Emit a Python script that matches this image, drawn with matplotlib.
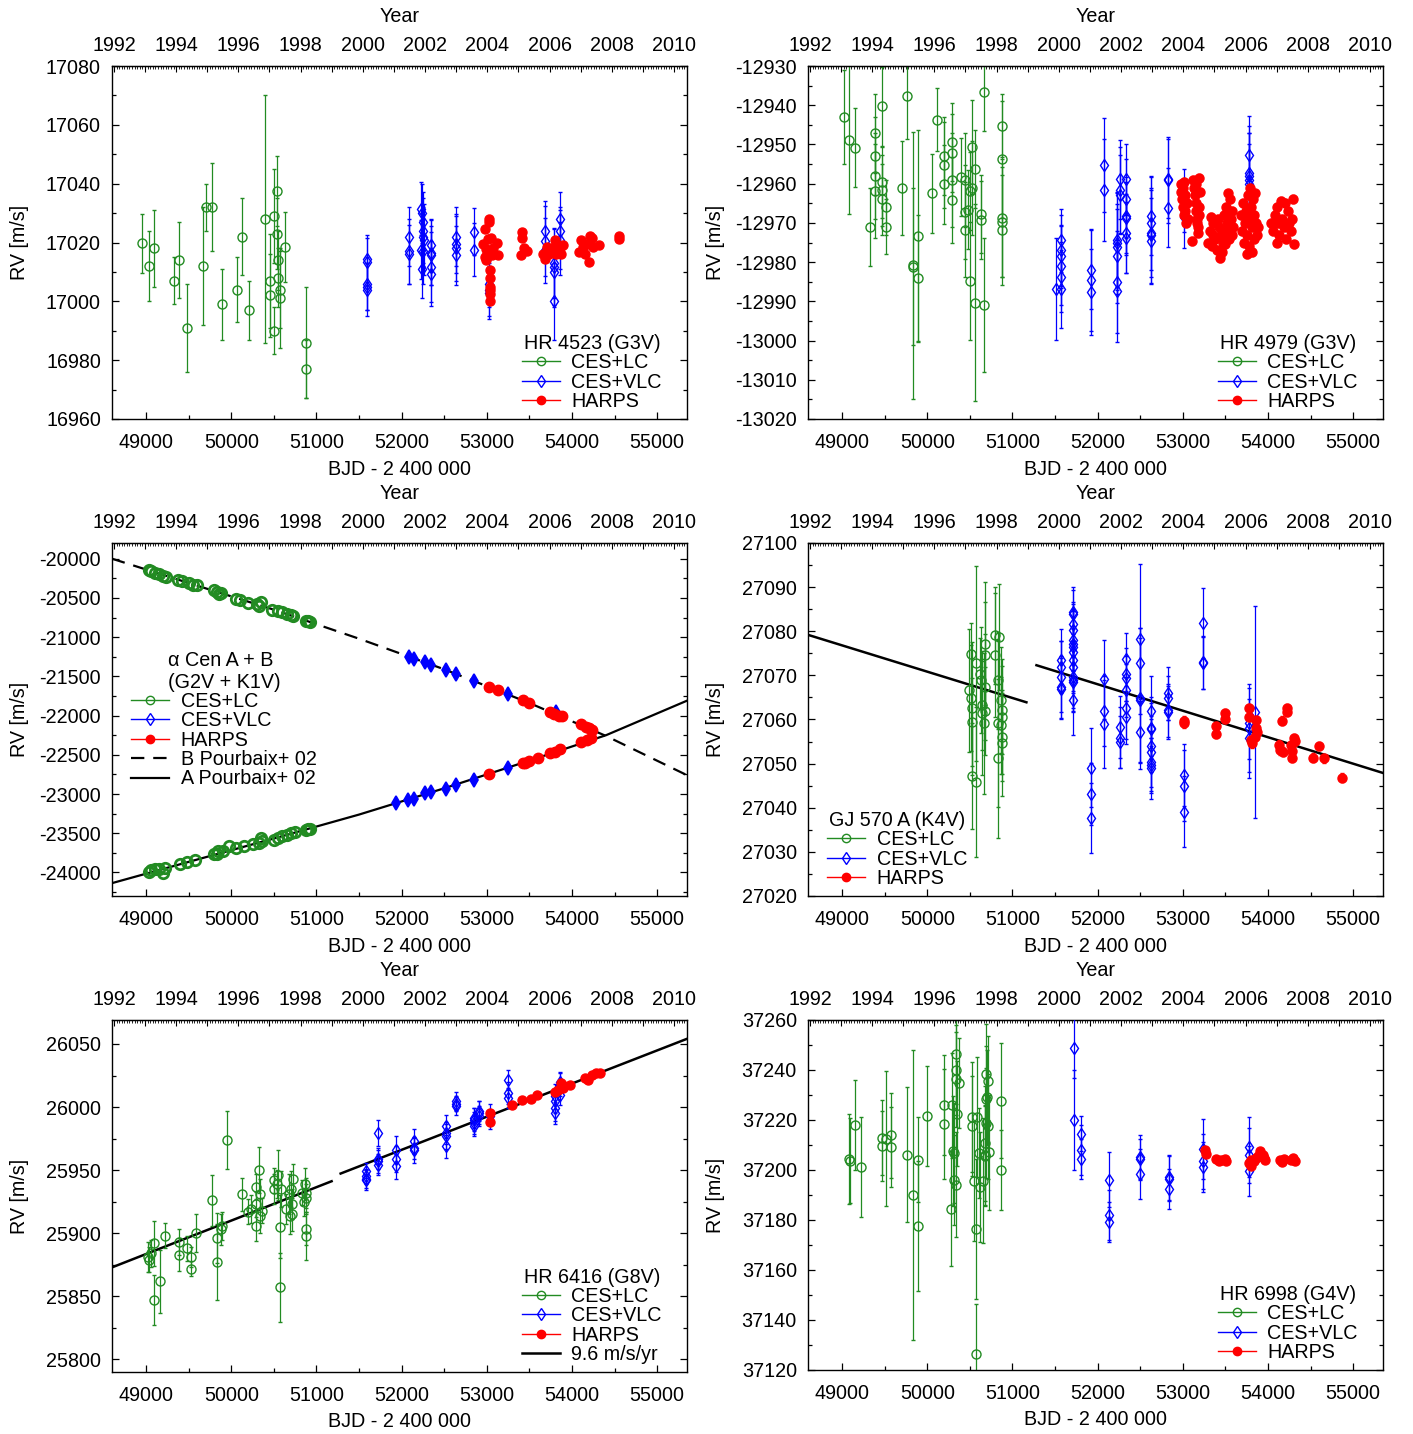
import matplotlib
matplotlib.use('Agg')
import matplotlib.pyplot as plt
from matplotlib.lines import Line2D
from matplotlib.ticker import MultipleLocator, FuncFormatter

plt.rcParams['font.family'] = ['Liberation Sans', 'DejaVu Sans']
plt.rcParams['font.size'] = 14.2
plt.rcParams['axes.unicode_minus'] = False

GREEN = '#228b22'
BLUE = '#0000ff'
RED = '#ff0000'
HARPS_ERR = 1.0

# ---------------- HR 4523 ----------------
hr4523_lc_t = [48947, 49037, 49090, 49333, 49391, 49476, 49666, 49704, 49778, 49888, 50068, 50131, 50211,
               50396, 50459, 50459, 50502, 50502, 50533, 50533, 50549, 50549, 50575, 50575, 50628, 50882, 50882]
hr4523_lc_rv = [17019.8, 17012, 17018, 17007, 17014, 16991, 17012, 17032, 17032, 16999, 17004, 17022, 16997,
                17028, 17007, 17002, 17029, 16990, 17037.5, 17023, 17014, 17008, 17004, 17001, 17018.5, 16986, 16977]
hr4523_lc_err = [10, 12, 13, 8, 13, 15, 20, 8, 15, 12, 11, 13, 10,
                 42, 16, 14, 16, 8, 12, 12, 10, 10, 13, 17, 12, 19, 10]

hr4523_vlc_t = [51590, 51590, 51590, 51590, 51590, 52082, 52082, 52082,
                52230, 52240, 52245, 52250, 52255, 52262, 52230, 52245, 52240,
                52346, 52346, 52346, 52346, 52346, 52642, 52642, 52642, 52642,
                52848, 52848, 53028, 53028, 53028, 53678, 53678, 53678,
                53794, 53794, 53794, 53794, 53863, 53863, 53863, 53863]
hr4523_vlc_rv = [17014.5, 17013.4, 17006, 17005, 17004, 17022, 17017, 17016,
                 17031.5, 17030, 17027, 17024, 17022, 17021, 17017.6, 17017, 17011,
                 17019, 17016.5, 17015.6, 17011.7, 17009.4, 17022, 17019.6, 17018, 17015.6,
                 17023.6, 17017.6, 17006, 17004, 17003, 17024, 17020.5, 17017.4,
                 17013, 17011.7, 17010, 17000, 17028, 17024, 17021, 17018]
hr4523_vlc_err = [8, 8, 9, 8, 9, 10, 11, 10,
                  9, 10, 10, 11, 10, 12, 10, 11, 10,
                  9, 11, 10, 12, 11, 10, 10, 11, 10,
                  8, 9, 8, 9, 9, 10, 12, 11,
                  12, 13, 12, 13, 9, 8, 10, 9]

hr4523_harps_t = [52975, 52954, 52991, 53007, 53017, 53028, 53028, 53044, 53033, 53033, 53033, 53033, 53033, 53033,
                  53060, 53070, 53123, 53134, 52975, 52996, 53414, 53414, 53398, 53440, 53467,
                  53662, 53678, 53705, 53731, 53757, 53784, 53800, 53810, 53821, 53837, 53863, 53874, 53890,
                  54085, 54101, 54128, 54154, 54180, 54196, 54207, 54233, 54244, 54313, 54551, 54551]
hr4523_harps_rv = [17024.7, 17019.6, 17017.9, 17016.2, 17021.3, 17028.1, 17027, 17021.6, 17010.5, 17008, 17005,
                   17004, 17002.4, 17000, 17015.6, 17018, 17020, 17015.6, 17015, 17014, 17023.6, 17021.6, 17015.6,
                   17018, 17017, 17016, 17014.5, 17018.5, 17016, 17017.3, 17018.5, 17020.7, 17016, 17019, 17017.3,
                   17018, 17016, 17019, 17016.8, 17020.7, 17018.5, 17016, 17019.6, 17013.4, 17022.3, 17021.6,
                   17018.5, 17019, 17022.3, 17021.3]

# ---------------- HR 4979 ----------------
hr4979_lc_t = [49027, 49086, 49150, 49333, 49381, 49381, 49381, 49381, 49467, 49467, 49467, 49467, 49521, 49521,
               49703, 49768, 49827, 49827, 49886, 49886, 50058, 50117, 50198, 50198, 50198, 50294, 50294, 50294,
               50294, 50391, 50445, 50445, 50445, 50482, 50499, 50499, 50520, 50520, 50563, 50563, 50627, 50627,
               50665, 50665, 50874, 50874, 50874, 50874, 50874]
hr4979_lc_rv = [-12943, -12948.8, -12950.8, -12971, -12947.2, -12952.9, -12958, -12961.8, -12940.3, -12959.7,
                -12961.7, -12964, -12966, -12971, -12961, -12937.6, -12980.8, -12981.2, -12973.4, -12984,
                -12962.5, -12943.7, -12953, -12955.2, -12960.2, -12949.4, -12952.2, -12959.1, -12964.1, -12958.3,
                -12959.1, -12967.3, -12971.7, -12966.6, -12961.9, -12984.9, -12950.6, -12961.1, -12956.2,
                -12990.3, -12967.8, -12969.3, -12936.6, -12990.9, -12945.2, -12953.8, -12968.7, -12969.8, -12971.9]
hr4979_lc_err = [12, 19, 10, 10, 10, 10, 11, 12, 10, 9, 9, 9, 7, 7,
                 12, 11, 34, 20, 27, 16, 10, 8, 10, 11, 10, 10, 10, 12,
                 11, 10, 12, 12, 12, 10, 10, 15, 12, 12, 10, 25, 10, 10,
                 10, 17, 8, 15, 15, 14, 14]

hr4979_vlc_t = [51513, 51567, 51567, 51567, 51567, 51567, 51567, 51922, 51922, 51922, 52077, 52077,
                52228, 52228, 52228, 52228, 52228, 52228, 52260, 52260, 52260,
                52330, 52330, 52330, 52330, 52330, 52330, 52625, 52625, 52625, 52625, 52625,
                52829, 52829, 52829, 53012, 53012, 53780, 53780, 53780, 53780, 53780]
hr4979_vlc_rv = [-12986.8, -12974.4, -12977, -12978.5, -12980.9, -12983.8, -12986.8, -12981.9, -12984.6, -12987.6,
                 -12955.3, -12961.7, -12974.4, -12975.2, -12976.1, -12978.5, -12985.1, -12987.4, -12958.9,
                 -12961.7, -12962.8, -12958.9, -12963.8, -12968.3, -12968.7, -12972.7, -12973.8, -12968.3,
                 -12970, -12972.7, -12973.2, -12974.6, -12958.7, -12959.1, -12966.1, -12964.2, -12968.5,
                 -12952.8, -12957.2, -12958.1, -12959.1, -12960]
hr4979_vlc_err = [13, 8, 9, 8, 10, 9, 10, 10, 13, 11, 12, 13,
                  12, 13, 11, 12, 13, 13, 10, 11, 10,
                  9, 10, 10, 9, 10, 9, 10, 12, 11, 12, 11,
                  10, 11, 10, 8, 8, 10, 12, 11, 12, 10]

hr4979_harps_t = [52975, 52980, 52990, 53000, 53005, 53010, 53020, 53030, 53040, 53050, 53055, 53015,
                  53120, 53130, 53140, 53150, 53160, 53170, 53180, 53190, 53200, 53185, 53175, 53165, 53195,
                  53106, 53155,
                  53300, 53320, 53340, 53360, 53380, 53400, 53420, 53440, 53450, 53470, 53480, 53500, 53510,
                  53520, 53540, 53550, 53560, 53575, 53590, 53530, 53410, 53460, 53350, 53330, 53490, 53580,
                  53680, 53700, 53710, 53720, 53730, 53740, 53750, 53760, 53770, 53780, 53790, 53800, 53810,
                  53820, 53830, 53840, 53850, 53860, 53870, 53880, 53755, 53815,
                  54040, 54060, 54080, 54100, 54110, 54130, 54150, 54170, 54190, 54210, 54230, 54250, 54270,
                  54290, 54300, 54280, 54200, 54120]
hr4979_harps_rv = [-12960, -12962, -12964, -12966, -12961, -12968, -12963, -12967, -12970, -12965, -12969, -12959.5,
                   -12959, -12961, -12963, -12965, -12967, -12969, -12971, -12966, -12962, -12958.5, -12972.5,
                   -12970, -12968, -12974.6, -12960,
                   -12975, -12972, -12976, -12970, -12974, -12977, -12971, -12979, -12973, -12975, -12968,
                   -12972, -12966, -12970, -12974, -12964, -12969, -12967, -12971, -12962.5, -12969, -12977.5,
                   -12973, -12968.5, -12975.5, -12973,
                   -12968, -12972, -12965, -12975, -12970, -12967, -12973, -12963, -12969, -12976, -12961,
                   -12966, -12971, -12964, -12974, -12968, -12962.5, -12970, -12973, -12971, -12978, -12977.5,
                   -12970, -12972, -12968, -12975, -12966, -12973, -12964.5, -12969, -12971, -12974, -12967,
                   -12970, -12972, -12964, -12975.5, -12969, -12965, -12970]

# ---------------- alpha Cen A + B ----------------
acen_lc_t = [49030, 49060, 49100, 49150, 49200, 49230, 49380, 49420, 49500, 49550, 49600, 49800, 49830, 49860,
             49880, 50050, 50100, 50200, 50300, 50330, 50350, 50480, 50550, 50600, 50650, 50700, 50730, 50880,
             50900, 50920,
             49030, 49060, 49100, 49150, 49200, 49220, 49400, 49480, 49580, 49800, 49830, 49850, 49900, 49970,
             50050, 50150, 50250, 50330, 50350, 50360, 50500, 50550, 50600, 50650, 50700, 50750, 50880, 50900,
             50920]
acen_lc_rv = [-20140, -20160, -20180, -20190, -20220, -20230, -20270, -20290, -20310, -20330, -20340, -20400,
              -20420, -20450, -20440, -20510, -20530, -20560, -20580, -20600, -20550, -20650, -20670, -20680,
              -20700, -20720, -20730, -20790, -20800, -20810,
              -23990, -23970, -23960, -23950, -24010, -23940, -23890, -23870, -23840, -23760, -23770, -23730,
              -23720, -23660, -23690, -23660, -23640, -23620, -23560, -23600, -23580, -23560, -23540, -23520,
              -23500, -23490, -23460, -23450, -23440]

acen_vlc_t = [52082, 52146, 52278, 52347, 52516, 52642, 52848, 53245, 53810,
              51930, 52080, 52140, 52280, 52340, 52515, 52640, 52850, 53245]
acen_vlc_rv = [-21250, -21280, -21320, -21350, -21420, -21470, -21560, -21730, -21960,
               -23120, -23070, -23060, -22990, -22980, -22930, -22880, -22820, -22670]

acen_harps_t = [53030, 53130, 53420, 53500, 53740, 53790, 53850, 53880, 54100, 54160, 54200, 54240,
                53030, 53420, 53450, 53500, 53600, 53740, 53800, 53860, 54100, 54180, 54220]
acen_harps_rv = [-21630, -21680, -21800, -21840, -21950, -21975, -22000, -22010, -22110, -22140, -22160, -22180,
                 -22740, -22610, -22600, -22580, -22540, -22480, -22460, -22430, -22340, -22310, -22290]

acen_b_t = [48600, 49500, 50500, 51500, 52500, 53500, 54400, 55350]
acen_b_rv = [-20000, -20310, -20650, -21020, -21410, -21840, -22260, -22760]
acen_a_t = [48600, 49500, 50500, 51500, 52500, 53500, 54400, 55350]
acen_a_rv = [-24136, -23865, -23567, -23262, -22927, -22574, -22250, -21810]

# ---------------- GJ 570 A ----------------
gj570_lc_t = [50509, 50493, 50515, 50520, 50531, 50520, 50569, 50569, 50622, 50627, 50638, 50638, 50676, 50676,
              50676, 50676, 50665, 50800, 50837, 50800, 50827, 50827, 50827, 50869, 50880, 50880, 50869, 50880,
              50880]
gj570_lc_rv = [27074.9, 27066.6, 27064.8, 27062.5, 27059.5, 27047.2, 27072.7, 27045.9, 27070.4, 27068.9,
               27063.2, 27061.5, 27077.2, 27074.7, 27067.4, 27061.9, 27059.1, 27079.1, 27078.6, 27074.6,
               27068.9, 27059.1, 27051.2, 27064.4, 27062.1, 27060.6, 27058.7, 27056.1, 27054.6]
gj570_lc_err = [7, 14, 12, 15, 10, 12, 22, 17, 8, 12, 10, 14, 14, 12, 12, 10, 16, 11, 12, 14,
                11, 19, 18, 12, 10, 13, 11, 10, 12]

gj570_vlc_t = [51567, 51567, 51567, 51567, 51567,
               51712, 51712, 51712, 51712, 51712, 51712, 51712, 51712, 51712, 51712, 51712, 51712, 51712, 51712,
               51922, 51922, 51922, 52077, 52077, 52077, 52260, 52260, 52260,
               52330, 52330, 52330, 52330, 52330, 52330, 52502, 52502, 52502, 52502, 52502,
               52625, 52625, 52625, 52625, 52625, 52625, 52625, 52625,
               52829, 52829, 52829, 52829, 53012, 53012, 53012, 53232, 53232, 53232,
               53780, 53780, 53780, 53850]
gj570_vlc_rv = [27073.4, 27071.9, 27069.7, 27067.4, 27067,
                27084.4, 27084, 27081.7, 27080.2, 27078.1, 27077.2, 27076.5, 27075.3, 27073.4, 27071.9,
                27069.7, 27068.9, 27068.5, 27064.4,
                27049.1, 27043.2, 27037.7, 27069.1, 27061.9, 27058.9, 27058.3, 27055.9, 27054.9,
                27073.7, 27070.3, 27069.3, 27066.6, 27062.6, 27060.5, 27078.2, 27072.7, 27064.8, 27064.4, 27057.1,
                27061.9, 27058, 27057.8, 27054, 27052.7, 27050.4, 27049.7, 27048.9,
                27065.9, 27064.9, 27062.1, 27061.6, 27047.4, 27045, 27039.1, 27081.9, 27073, 27072.8,
                27059.1, 27058, 27055.7, 27061.7]
gj570_vlc_err = [7, 6, 8, 7, 7,
                 5, 6, 5, 6, 7, 6, 8, 6, 7, 6, 8, 7, 6, 8,
                 9, 7, 8, 9, 8, 10, 7, 7, 6,
                 6, 6, 5, 6, 7, 6, 17, 8, 16, 14, 7,
                 8, 7, 6, 6, 8, 7, 6, 7,
                 6, 5, 6, 6, 7, 8, 8, 8, 6, 6,
                 8, 10, 9, 24]

gj570_harps_t = [53012, 53012, 53393, 53393, 53495, 53495, 53780, 53780, 53806, 53817, 53860, 53860, 53850, 53871,
                 54129, 54140, 54161, 54172, 54220, 54225, 54274, 54280, 54280, 54306, 54317, 54532, 54596,
                 54655, 54870]
gj570_harps_rv = [27059.7, 27059.1, 27058.5, 27056.8, 27061.4, 27060.2, 27060.6, 27062.6, 27055.3, 27054.6,
                  27059.8, 27058, 27056.1, 27057.2, 27054.3, 27053, 27059.7, 27052.7, 27062.6, 27061.7,
                  27054.2, 27052.8, 27051.3, 27055.7, 27055.1, 27051.3, 27054, 27051.2, 27046.8]

gj570_fit1_t = [48581, 51164]
gj570_fit1_rv = [27079.3, 27063.9]
gj570_fit2_t = [51282, 55364]
gj570_fit2_rv = [27072.3, 27047.8]

# ---------------- HR 6416 ----------------
hr6416_lc_t = [49026, 49037, 49053, 49090, 49090, 49159, 49227, 49391, 49391, 49476, 49529, 49529, 49582, 49777,
               49830, 49835, 49883, 49888, 49951, 50131, 50200, 50232, 50285, 50296, 50296, 50322, 50333, 50338,
               50364, 50496, 50496, 50533, 50554, 50575, 50575, 50586, 50639, 50681, 50692, 50702, 50718, 50718,
               50729, 50834, 50850, 50871, 50882, 50882, 50882, 50882]
hr6416_lc_rv = [25881, 25879, 25884, 25892, 25847, 25862, 25898, 25883, 25893, 25888, 25881, 25872, 25900,
                25926, 25896, 25877, 25903, 25906, 25974, 25931, 25917, 25919, 25906, 25923, 25937, 25950,
                25931, 25914, 25918, 25942, 25935, 25939, 25946, 25905, 25857, 25935, 25919, 25931, 25914,
                25935, 25923, 25915, 25943, 25932, 25925, 25939, 25932, 25928, 25903, 25898]
hr6416_lc_err = [12, 10, 11, 18, 20, 25, 10, 13, 10, 10, 8, 6, 15, 20, 20, 30, 12, 11, 23, 13, 10, 11, 12,
                 10, 10, 18, 12, 14, 10, 10, 12, 11, 20, 25, 27, 14, 12, 16, 15, 14, 12, 13, 12, 10, 11,
                 13, 12, 11, 12, 19]

hr6416_vlc_t = [51580, 51580, 51580, 51580, 51728, 51728, 51728, 51728, 51929, 51929, 51929,
                52145, 52145, 52145, 52521, 52521, 52521, 52521, 52637, 52637, 52637,
                52848, 52848, 52848, 52848, 52912, 52912, 52912, 53033, 53245, 53245, 53245,
                53800, 53800, 53800, 53800, 53863, 53863, 53863]
hr6416_vlc_rv = [25949.7, 25945.2, 25943.1, 25942, 25979.5, 25959.2, 25957, 25954.4, 25966.3, 25958.9, 25953.1,
                 25972.9, 25967.6, 25965.8, 25984.8, 25979.5, 25976.9, 25969, 26004.6, 26002.7, 26000.6,
                 25991.4, 25987.4, 25984.8, 25990, 25996.7, 25995.5, 25993.2, 25992.7, 26021.2, 26011.2,
                 26007.2, 26008.6, 26004.6, 25999.3, 25995.4, 26019.6, 26017.8, 26009.9]
hr6416_vlc_err = [6, 6, 7, 8, 10, 8, 9, 8, 11, 10, 10, 10, 9, 10, 9, 9, 10, 9, 7, 6, 7,
                  8, 9, 8, 9, 8, 9, 8, 10, 8, 9, 8, 10, 9, 10, 9, 8, 9, 8]

hr6416_harps_t = [53033, 53033, 53292, 53414, 53520, 53588, 53800, 53837, 53874, 53890, 53906, 53980, 54154,
                  54191, 54233, 54286, 54329]
hr6416_harps_rv = [25995.4, 25988.2, 26001.4, 26005.9, 26006.4, 26009.9, 26011.7, 26013.8, 26019.1, 26015.2,
                   26016.5, 26017.8, 26023.1, 26021.2, 26025.7, 26027, 26027]

hr6416_fit1_t = [48588, 51178]
hr6416_fit1_rv = [25872.6, 25941.2]
hr6416_fit2_t = [51284, 55396]
hr6416_fit2_rv = [25947.3, 26055.3]

# ---------------- HR 6998 ----------------
hr6998_lc_t = [49081, 49091, 49150, 49220, 49467, 49467, 49516, 49575, 49575, 49768, 49827, 49886, 49886, 49994,
               50198, 50198, 50273, 50289, 50300, 50316, 50316, 50332, 50332, 50332, 50343, 50354, 50370, 50531,
               50520, 50547, 50568, 50568, 50585, 50611, 50622, 50660, 50676, 50681, 50692, 50703, 50692, 50708,
               50692, 50708, 50681, 50729, 50869, 50869]
hr6998_lc_rv = [37204.3, 37203.7, 37217.8, 37201.1, 37212.8, 37209.4, 37212.5, 37213.8, 37209, 37206.1, 37190,
                37204, 37177.5, 37221.7, 37225.9, 37218.4, 37184.4, 37225.9, 37207.4, 37206.7, 37196, 37194,
                37246.2, 37239.8, 37236.2, 37222.4, 37234.6, 37221.2, 37217.4, 37195.6, 37176.2, 37126.4,
                37221.2, 37206.7, 37193.3, 37195.7, 37206.1, 37210.7, 37228.4, 37229.1, 37238.2, 37235.5,
                37218.8, 37217.4, 37205.4, 37207.1, 37227.7, 37199.8]
hr6998_lc_err = [18, 17, 18, 20, 15, 14, 27, 17, 16, 27, 58, 17, 26, 20, 20, 22, 23, 21, 22, 20, 18,
                 21, 20, 18, 19, 21, 18, 22, 20, 24, 28, 20, 24, 18, 22, 25, 20, 23, 21, 19, 20, 18,
                 22, 21, 20, 23, 23, 16]

hr6998_vlc_t = [51718, 51718, 51803, 51803, 51803, 52131, 52131, 52131, 52502, 52502, 52502, 52835, 52835, 52835,
                53232, 53232, 53232, 53780, 53780, 53780]
hr6998_vlc_rv = [37248.9, 37220.1, 37214.5, 37207.8, 37204.5, 37196, 37182, 37179, 37205.1, 37204.5, 37198.3,
                 37197, 37196.4, 37192.3, 37208.5, 37203.4, 37201, 37209.1, 37205.8, 37199.6]
hr6998_vlc_err = [12, 20, 7, 10, 8, 11, 10, 8, 9, 8, 10, 9, 9, 8, 12, 11, 10, 12, 11, 10]

hr6998_harps_t = [53259, 53270, 53393, 53420, 53447, 53495, 53511, 53780, 53796, 53806, 53833, 53860, 53887,
                  53903, 53940, 53956, 53967, 54139, 54161, 54182, 54274, 54290, 54317]
hr6998_harps_rv = [37207.8, 37206.5, 37204.3, 37203.4, 37204.1, 37204.5, 37203.4, 37202.7, 37201.4, 37204.1,
                   37203.4, 37204.7, 37205.4, 37207.4, 37206.1, 37204.7, 37204.1, 37204.1, 37203, 37204.3,
                   37204.1, 37204.7, 37203.4]

W, H = 1413, 1434
fig = plt.figure(figsize=(W / 100, H / 100), dpi=100)


def make_axes(x0, y0, x1, y1):
    return fig.add_axes([x0 / W, 1 - y1 / H, (x1 - x0) / W, (y1 - y0) / H])


def jd2yr(x):
    return 2000 + (x - 51544.5) / 365.25


def yr2jd(y):
    return 51544.5 + (y - 2000) * 365.25


def setup(ax, ylim, ystep):
    ax.set_xlim(48600, 55350)
    ax.set_ylim(*ylim)
    ax.xaxis.set_major_locator(MultipleLocator(1000))
    ax.xaxis.set_minor_locator(MultipleLocator(500))
    ax.yaxis.set_major_locator(MultipleLocator(ystep))
    ax.yaxis.set_minor_locator(MultipleLocator(ystep / 2))
    ax.tick_params(which='both', direction='in', bottom=True, left=True, right=True, top=False)
    ax.tick_params(which='major', length=5, width=0.9)
    ax.tick_params(axis='x', which='major', pad=10)
    ax.tick_params(axis='y', which='major', pad=8)
    ax.tick_params(which='minor', length=3, width=0.9)
    for s in ax.spines.values():
        s.set_linewidth(1.0)
    ax.set_xlabel('BJD - 2 400 000')
    ax.set_ylabel('RV [m/s]')
    ax.xaxis.set_label_coords(0.5, -0.115)
    ax.yaxis.set_label_coords(-0.144, 0.5)
    sec = ax.secondary_xaxis('top', functions=(jd2yr, yr2jd))
    sec.xaxis.set_major_locator(MultipleLocator(1))
    sec.xaxis.set_minor_locator(MultipleLocator(1 / 12))
    sec.xaxis.set_major_formatter(FuncFormatter(
        lambda v, p: '%d' % round(v) if round(v) % 2 == 0 else ''))
    sec.tick_params(which='both', direction='in')
    sec.tick_params(which='major', length=4, width=0.8, pad=8)
    sec.tick_params(which='minor', length=2, width=0.6)
    ax.text(0.5, 1.14, 'Year', transform=ax.transAxes, ha='center', va='center')


def data_set(ax, t, rv, err, color, marker, filled, ms, z):
    ax.errorbar(t, rv, yerr=err, fmt=marker, color=color, ecolor=color,
                mfc=color if filled else 'none', mec=color, ms=ms, mew=1.0,
                elinewidth=0.9, capsize=1.6, capthick=0.9, zorder=z)


def handles():
    return [Line2D([], [], color=GREEN, marker='o', mfc='none', ms=6, lw=1.0),
            Line2D([], [], color=BLUE, marker='d', mfc='none', ms=6, lw=1.0),
            Line2D([], [], color=RED, marker='o', ms=6, lw=1.0)]


def legend(ax, extra_h, extra_l, title, loc, anchor):
    leg = ax.legend(handles() + extra_h, ['CES+LC', 'CES+VLC', 'HARPS'] + extra_l, title=title,
                    loc=loc, bbox_to_anchor=anchor, frameon=False, handlelength=1.9,
                    handletextpad=0.6, labelspacing=0.02, borderpad=0.2, borderaxespad=0.2,
                    title_fontsize=14.2)
    leg.set_zorder(10)


def standard(ax, lc, vlc, harps):
    data_set(ax, lc[0], lc[1], lc[2], GREEN, 'o', False, 6.5, 2)
    data_set(ax, vlc[0], vlc[1], vlc[2], BLUE, 'd', False, 6.5, 3)
    data_set(ax, harps[0], harps[1], HARPS_ERR, RED, 'o', True, 6.5, 4)


# HR 4523
ax = make_axes(112, 66, 687, 419)
setup(ax, (16960, 17080), 20)
standard(ax, (hr4523_lc_t, hr4523_lc_rv, hr4523_lc_err),
         (hr4523_vlc_t, hr4523_vlc_rv, hr4523_vlc_err), (hr4523_harps_t, hr4523_harps_rv))
legend(ax, [], [], 'HR 4523 (G3V)', 'lower right', (0.97, 0.0))

# HR 4979
ax = make_axes(808, 66, 1383, 419)
setup(ax, (-13020, -12930), 10)
standard(ax, (hr4979_lc_t, hr4979_lc_rv, hr4979_lc_err),
         (hr4979_vlc_t, hr4979_vlc_rv, hr4979_vlc_err), (hr4979_harps_t, hr4979_harps_rv))
legend(ax, [], [], 'HR 4979 (G3V)', 'lower right', (0.97, 0.0))

# alpha Cen
ax = make_axes(112, 543, 687, 896)
setup(ax, (-24300, -19800), 500)
ax.plot(acen_b_t, acen_b_rv, color='black', lw=1.6, dashes=(6, 4), zorder=1)
ax.plot(acen_a_t, acen_a_rv, color='black', lw=1.6, zorder=1)
ax.plot(acen_lc_t, acen_lc_rv, 'o', color=GREEN, mfc='none', ms=7.5, mew=2.0, zorder=2)
ax.plot(acen_vlc_t, acen_vlc_rv, 'd', color=BLUE, ms=7.5, mew=1.2, zorder=3)
ax.plot(acen_harps_t, acen_harps_rv, 'o', color=RED, ms=7.5, zorder=4)
legend(ax, [Line2D([], [], color='black', lw=1.6, dashes=(6, 4)), Line2D([], [], color='black', lw=1.6)],
       ['B Pourbaix+ 02', 'A Pourbaix+ 02'], '\u03b1 Cen A + B\n(G2V + K1V)', 'center left', (0.02, 0.5))

# GJ 570 A
ax = make_axes(808, 543, 1383, 896)
setup(ax, (27020, 27100), 10)
ax.plot(gj570_fit1_t, gj570_fit1_rv, color='black', lw=1.8, zorder=1)
ax.plot(gj570_fit2_t, gj570_fit2_rv, color='black', lw=1.8, zorder=1)
standard(ax, (gj570_lc_t, gj570_lc_rv, gj570_lc_err),
         (gj570_vlc_t, gj570_vlc_rv, gj570_vlc_err), (gj570_harps_t, gj570_harps_rv))
legend(ax, [], [], 'GJ 570 A (K4V)', 'lower left', (0.02, 0.0))

# HR 6416
ax = make_axes(112, 1020, 687, 1372)
setup(ax, (25790, 26069), 50)
ax.plot(hr6416_fit1_t, hr6416_fit1_rv, color='black', lw=1.8, zorder=1)
ax.plot(hr6416_fit2_t, hr6416_fit2_rv, color='black', lw=1.8, zorder=1)
standard(ax, (hr6416_lc_t, hr6416_lc_rv, hr6416_lc_err),
         (hr6416_vlc_t, hr6416_vlc_rv, hr6416_vlc_err), (hr6416_harps_t, hr6416_harps_rv))
legend(ax, [Line2D([], [], color='black', lw=1.8)], ['9.6 m/s/yr'], 'HR 6416 (G8V)', 'lower right', (0.97, 0.0))

# HR 6998
ax = make_axes(808, 1020, 1383, 1370)
setup(ax, (37120, 37260), 20)
standard(ax, (hr6998_lc_t, hr6998_lc_rv, hr6998_lc_err),
         (hr6998_vlc_t, hr6998_vlc_rv, hr6998_vlc_err), (hr6998_harps_t, hr6998_harps_rv))
legend(ax, [], [], 'HR 6998 (G4V)', 'lower right', (0.97, 0.0))

fig.savefig('out.png', dpi=100)
